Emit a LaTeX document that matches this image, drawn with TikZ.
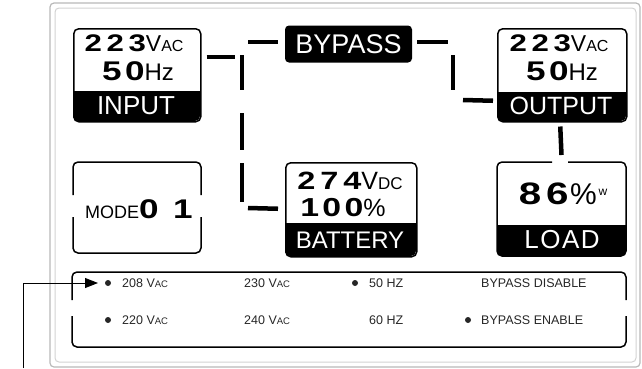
\documentclass[tikz,border=0pt]{standalone}
\usepackage{fontspec}
\setmainfont{Liberation Sans}
\usepackage{graphicx}
\usetikzlibrary{arrows.meta,calc}
\newcommand{\segd}[3]{{\fontsize{#1}{#1}\selectfont\bfseries\addfontfeatures{LetterSpace=#2}\scalebox{1.3}[1]{#3}}}
\newcommand{\fsz}[2]{{\fontsize{#1}{#1}\selectfont #2}}
\begin{document}
\begin{tikzpicture}[x=1pt,y=-1pt,
  lcd/.style={draw,line width=1.5pt,rounded corners=5pt,inner sep=0pt,anchor=north west},
  band/.style={fill=black},
  lbl/.style={text=white,inner sep=0pt},
  txt/.style={inner sep=0pt},
  segline/.style={line width=4.5pt,black},
  small/.style={inner sep=0pt,anchor=west,text=black!85,font=\fontsize{12.5}{12.5}\selectfont},
  dot/.style={circle,fill=black!85,inner sep=0pt,minimum size=6pt}]
\useasboundingbox (0,0) rectangle (642,368);
% outer frame
\draw[gray!55,line width=1.2pt,rounded corners=4pt] (50,3) rectangle (640,367);
\draw[gray!35,line width=1pt,rounded corners=4pt] (55,8) rectangle (636,362);

% INPUT
\node[lcd,minimum width=127pt,minimum height=93pt] (input) at (73,28) {};
\fill[band,rounded corners=5pt] (73,91) rectangle (200,121);
\fill[band] (73,91) rectangle (200,105);
\node[txt] (inv) at (134,43) {\segd{24}{15}{223}\fsz{23}{V}\fsz{16}{AC}};
\node[txt] (inhz) at (138,71) {\segd{27}{10}{50}\fsz{24}{Hz}};
\node[lbl,font=\fontsize{26}{26}\selectfont] (inlbl) at (136,106) {INPUT};

% OUTPUT
\node[lcd,minimum width=129pt,minimum height=93pt] (output) at (497,28) {};
\fill[band,rounded corners=5pt] (497,92) rectangle (626,121);
\fill[band] (497,92) rectangle (626,105);
\node[txt] (outv) at (559,43) {\segd{24}{15}{223}\fsz{23}{V}\fsz{16}{AC}};
\node[txt] (outhz) at (562,71) {\segd{27}{10}{50}\fsz{24}{Hz}};
\node[lbl,font=\fontsize{25}{25}\selectfont] (outlbl) at (561,106) {OUTPUT};

% BYPASS
\node[fill=black,rounded corners=4pt,minimum width=127pt,minimum height=37pt,inner sep=0pt] (bypass) at (348.5,44) {};
\node[lbl,font=\fontsize{27}{27}\selectfont] (bylbl) at (348.5,44) {BYPASS};

% MODE
\draw[line width=1.5pt,rounded corners=5pt] (73,195) -- (73,162) -- (201,162) -- (201,195);
\draw[line width=1.5pt,rounded corners=5pt] (73,217) -- (73,253) -- (201,253) -- (201,217);
\node[txt,anchor=west] (mode) at (85,209) {\fsz{18}{MODE}\segd{27}{4}{0\hspace{11pt}1}};

% BATTERY
\node[lcd,minimum width=131pt,minimum height=94pt] (battery) at (285,162) {};
\fill[band,rounded corners=5pt] (285,223) rectangle (416,256);
\fill[band] (285,223) rectangle (416,238);
\node[txt] (batv) at (350,181) {\segd{25}{15}{274}\fsz{25}{V}\fsz{17}{DC}};
\node[txt] (batp) at (343,208) {\segd{26}{10}{100}\fsz{25}{\%}};
\node[lbl,font=\fontsize{24}{24}\selectfont] (batlbl) at (350,240) {BATTERY};

% LOAD
\draw[line width=1.5pt,rounded corners=5pt] (552,162) -- (497,162) -- (497,256) -- (626,256) -- (626,162) -- (568,162);
\coordinate (load) at (561.5,162);
\fill[band,rounded corners=5pt] (497,225) rectangle (626,256);
\fill[band] (497,225) rectangle (626,240);
\node[txt] (loadv) at (563,194) {\segd{31}{12}{86}\,\fsz{30}{\%}\,\raisebox{9pt}{\fsz{12}{w}}};
\node[lbl,font=\fontsize{26}{26}\selectfont] (loadlbl) at (562,240) {\addfontfeatures{LetterSpace=6}LOAD};

% connectors (segmented LCD lines)
\draw[segline] ($(input.east)+(5,-18.5)$) -- ++(28,0);
\draw[segline] (242,55) -- (242,90);
\draw[segline] (242,113) -- (242,150);
\draw[segline] (242,163) -- (242,202);
\draw[segline] (248,42) -- ($(bypass.west)+(-7,-2)$);
\draw[segline] (248,208) -- ($(battery.west)+(-7,-1)$);
\draw[segline] ($(bypass.east)+(5,-2)$) -- (448,42);
\draw[segline] (453,55) -- (453,90);
\draw[segline] (463,100) -- ($(output.west)+(-4,25.5)$);
\draw[segline] ($(output.south)+(-2,4)$) -- ($(load)+(0,-7)$);

% settings panel
\draw[line width=1.5pt,rounded corners=5pt] (72,300) -- (72,272) -- (626,272) -- (626,300);
\draw[line width=1.5pt,rounded corners=5pt] (72,316) -- (72,347) -- (626,347) -- (626,316);

\node[dot] (d1) at (108,283) {};
\node[small] (t208) at (122,283) {208 V\fsz{9.5}{AC}};
\node[small] (t230) at (244,283) {230 V\fsz{9.5}{AC}};
\node[dot] (d3) at (355,283) {};
\node[small] (t50) at (369,283) {50 HZ};
\node[small] (tbd) at (481,283) {BYPASS DISABLE};
\node[dot] (d2) at (108,320) {};
\node[small] (t220) at (122,320) {220 V\fsz{9.5}{AC}};
\node[small] (t240) at (244,320) {240 V\fsz{9.5}{AC}};
\node[small] (t60) at (369,320) {60 HZ};
\node[dot] (d4) at (468,320) {};
\node[small] (tbe) at (481,320) {BYPASS ENABLE};

% pointer arrow
\coordinate (src) at (23,368);
\coordinate (tip) at (98,283);
\draw[line width=0.9pt,-{Triangle[length=13pt,width=10pt]}] (src) |- (tip);
\end{tikzpicture}
\end{document}
